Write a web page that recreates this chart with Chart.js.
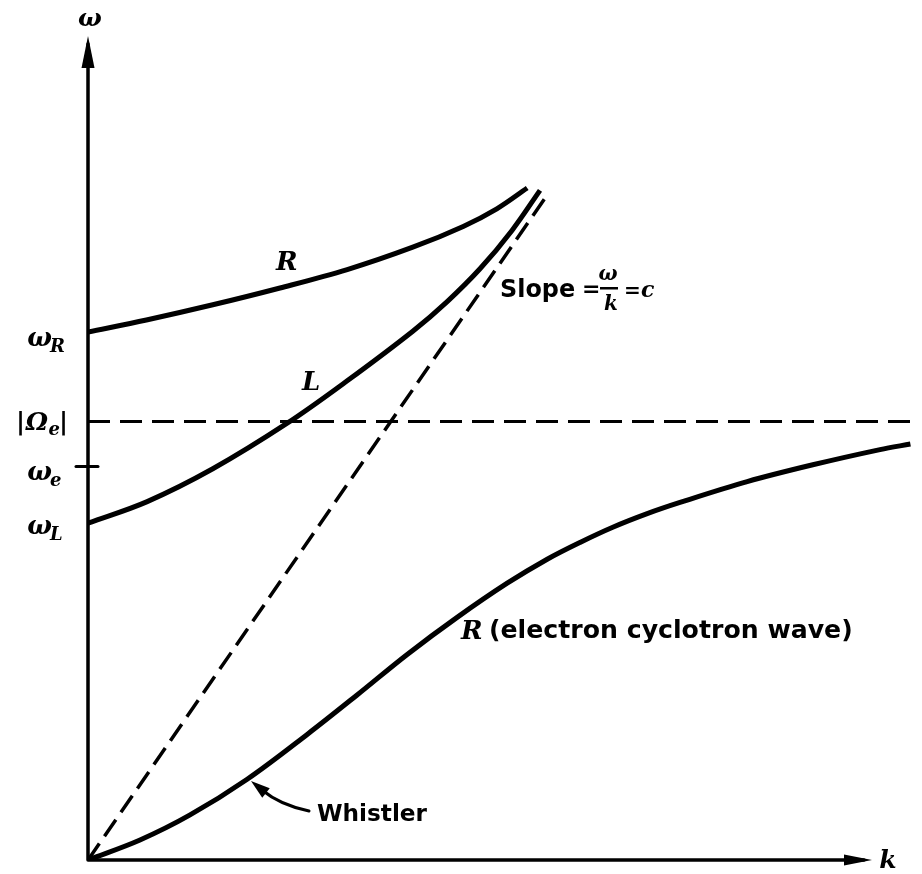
<!DOCTYPE html>
<html>
<head>
<meta charset="utf-8">
<script src="https://cdn.jsdelivr.net/npm/chart.js@4.4.1/dist/chart.umd.min.js"></script>
<style>
body{margin:0;background:#fff;}
canvas{display:block;}
</style>
</head>
<body>
<canvas id="chart" width="922" height="874"></canvas>
<script>
// dispersion curves, k along x and omega along y (arbitrary units)
const upperRk = [0, 0.73, 1.56, 2.4, 3.24, 4.06, 4.69, 5.11, 5.49];
const upperRw = [6.6, 6.75, 6.94, 7.15, 7.38, 7.66, 7.92, 8.14, 8.4];

const lWaveK = [0, 0.74, 1.56, 2.49, 3.24, 4.06, 4.49, 4.9, 5.3, 5.65];
const lWaveW = [4.21, 4.48, 4.89, 5.46, 5.99, 6.61, 6.98, 7.39, 7.87, 8.37];

const whistlerK = [0, 0.65, 1.27, 1.99, 2.74, 3.36, 3.99, 4.61, 5.24, 5.74, 6.15, 6.56, 6.99, 7.4, 8.24, 9.06, 9.9, 10.28];
const whistlerW = [0, 0.25, 0.56, 1.01, 1.57, 2.06, 2.57, 3.03, 3.46, 3.76, 3.97, 4.16, 4.33, 4.47, 4.73, 4.94, 5.13, 5.2];

// light line omega = c k
const lightK = [0, 5.71];
const lightW = [0, 8.27];

// |Omega_e| level
const cyclotronW = 5.48;
const cyclotronK = [0, 10.4];

// marks on the omega axis
const tickMain = ['ω', '|Ω', 'ω', 'ω'];
const tickSub = ['R', 'e', 'e', 'L'];
const tickW = [6.52, 5.48, 4.85, 4.18];
const omegaE = 4.92;

const pts = (ks, ws) => ks.map((k, i) => ({x: k, y: ws[i]}));

const curve = (data, extra) => Object.assign({
	data: data,
	showLine: true,
	borderColor: '#000',
	borderWidth: 5,
	pointRadius: 0,
	tension: 0.35,
	fill: false
}, extra || {});

function arrowHead(ctx, tx, ty, bx, by, half){
	const dx = tx - bx, dy = ty - by;
	const len = Math.hypot(dx, dy);
	const nx = -dy / len * half, ny = dx / len * half;
	ctx.beginPath();
	ctx.moveTo(tx, ty);
	ctx.lineTo(bx + nx, by + ny);
	ctx.lineTo(bx - nx, by - ny);
	ctx.closePath();
	ctx.fill();
}

// text squeezed or stretched to a given width
function fitText(ctx, text, x, y, w, style){
	ctx.font = style + ' 20px "DejaVu Sans"';
	const size = 20 * w / ctx.measureText(text).width;
	ctx.font = style + ' ' + size.toFixed(1) + 'px "DejaVu Sans"';
	ctx.fillText(text, x, y);
}

const diagram = {
	id: 'diagram',
	afterDatasetsDraw(chart){
		const ctx = chart.ctx;
		const X = v => chart.scales.x.getPixelForValue(v);
		const Y = v => chart.scales.y.getPixelForValue(v);
		ctx.save();
		ctx.strokeStyle = '#000';
		ctx.fillStyle = '#000';
		ctx.lineCap = 'round';

		// axes with arrows
		ctx.lineWidth = 3.5;
		ctx.beginPath();
		ctx.moveTo(X(0), Y(0));
		ctx.lineTo(X(0), Y(10.2));
		ctx.moveTo(X(0), Y(0));
		ctx.lineTo(X(9.7), Y(0));
		ctx.stroke();
		arrowHead(ctx, X(0), Y(10.3), X(0), Y(9.9), 6.5);
		arrowHead(ctx, X(9.8), Y(0), X(9.45), Y(0), 5.5);

		// tick for omega_e
		ctx.lineWidth = 3;
		ctx.beginPath();
		ctx.moveTo(X(0) - 12, Y(omegaE));
		ctx.lineTo(X(0) + 10, Y(omegaE));
		ctx.stroke();

		// axis names
		ctx.font = 'italic bold 25px "DejaVu Serif"';
		ctx.textAlign = 'center';
		ctx.textBaseline = 'alphabetic';
		ctx.fillText('ω', X(0) + 2, 26);
		ctx.fillText('k', X(10.0), Y(0) + 8);

		// omega axis labels
		tickMain.forEach((m, i) => {
			const yy = Y(tickW[i]) + 8;
			ctx.textAlign = 'right';
			if (m == '|Ω'){
				ctx.font = 'bold 25px "DejaVu Serif"';
				ctx.fillText('|', 25, yy);
				ctx.font = 'italic bold 25px "DejaVu Serif"';
				ctx.fillText('Ω', 48, yy);
				ctx.font = 'italic bold 18px "DejaVu Serif"';
				ctx.fillText(tickSub[i], 60, yy + 5);
				ctx.font = 'bold 25px "DejaVu Serif"';
				ctx.fillText('|', 68, yy);
			} else {
				ctx.font = 'italic bold 26px "DejaVu Serif"';
				ctx.fillText(m, 52, yy);
				ctx.font = 'italic bold 18px "DejaVu Serif"';
				ctx.textAlign = 'left';
				ctx.fillText(tickSub[i], 50, yy + 6);
			}
		});

		// curve names
		ctx.textAlign = 'left';
		ctx.font = 'italic bold 26px "DejaVu Serif"';
		ctx.fillText('R', 276, 270);
		ctx.fillText('L', 302, 390);
		ctx.fillText('R', 461, 639);
		fitText(ctx, '(electron cyclotron wave)', 489, 638, 364, 'bold');

		// slope note
		fitText(ctx, 'Slope', 500, 297, 75, 'bold');
		ctx.font = 'bold 22px "DejaVu Sans"';
		ctx.fillText('=', 582, 296);
		ctx.font = 'italic bold 20px "DejaVu Serif"';
		ctx.textAlign = 'center';
		ctx.fillText('ω', 608, 280);
		ctx.fillText('k', 611, 310);
		ctx.fillRect(600, 287, 18, 2.5);
		ctx.textAlign = 'left';
		ctx.font = 'bold 20px "DejaVu Sans"';
		ctx.fillText('=', 624, 297);
		ctx.font = 'italic bold 22px "DejaVu Serif"';
		ctx.fillText('c', 641, 297);

		// whistler pointer
		fitText(ctx, 'Whistler', 317, 821, 110, 'bold');
		ctx.lineWidth = 3;
		ctx.beginPath();
		ctx.moveTo(309, 811);
		ctx.quadraticCurveTo(280, 805, 262, 790);
		ctx.stroke();
		arrowHead(ctx, 251, 781, 266, 793, 6);

		ctx.restore();
	}
};

new Chart(document.getElementById('chart'), {
	type: 'scatter',
	data: {
		datasets: [
			curve(pts(upperRk, upperRw)),
			curve(pts(lWaveK, lWaveW)),
			curve(pts(whistlerK, whistlerW)),
			curve(pts(lightK, lightW), {borderWidth: 3.5, borderDash: [20, 9], tension: 0}),
			curve(pts(cyclotronK, [cyclotronW, cyclotronW]), {borderWidth: 3, borderDash: [22, 10], tension: 0})
		]
	},
	options: {
		responsive: false,
		animation: false,
		layout: {padding: {left: 88, top: 28, right: 2, bottom: 14}},
		plugins: {legend: {display: false}, tooltip: {enabled: false}},
		scales: {
			x: {type: 'linear', min: 0, max: 10.4, display: false},
			y: {type: 'linear', min: 0, max: 10.4, display: false}
		}
	},
	plugins: [diagram]
});
</script>
</body>
</html>
